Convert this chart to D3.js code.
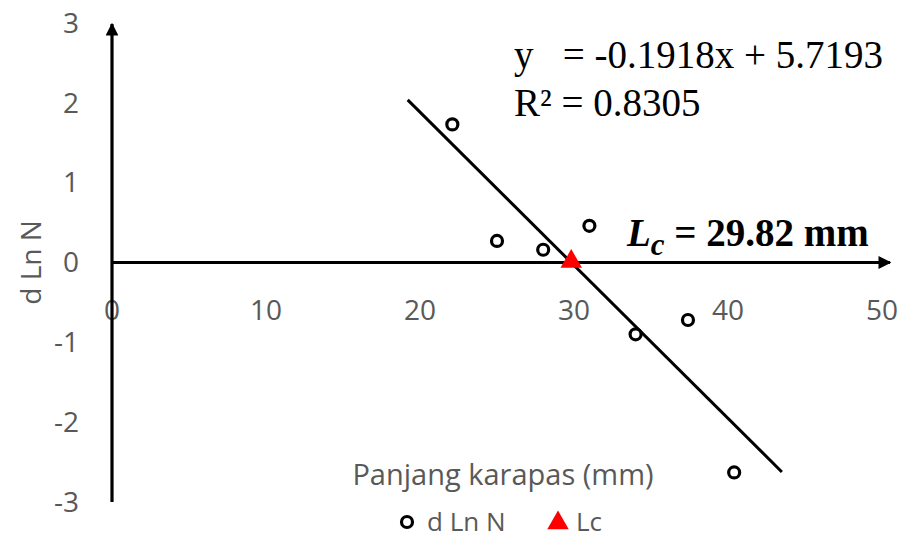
<!DOCTYPE html>
<html>
<head>
<meta charset="utf-8">
<script src="https://cdn.jsdelivr.net/npm/d3@7"></script>
<style>
  body { margin: 0; background: #fff; }
  .sans { font-family: "Open Sans", sans-serif; }
  .serif { font-family: "Liberation Serif", "Times New Roman", serif; }
</style>
</head>
<body>
<div id="chart"></div>
<script>
var
  xTicks = [0, 10, 20, 30, 40, 50],
  yTicks = [-3, -2, -1, 0, 1, 2, 3],
  lengths = [22.1, 25, 28, 31, 34, 37.4, 40.4],
  dLnN = [1.73, 0.27, 0.16, 0.46, -0.9, -0.72, -2.63],
  slope = -0.1918,
  intercept = 5.7193,
  trendRange = [19.2, 43.5],
  lc = 29.82;

var
  width = 912, height = 538,
  svg = d3.select('#chart').append('svg')
    .attr('width', width)
    .attr('height', height),
  x = d3.scaleLinear().domain([0, 50]).range([112, 882]),
  y = d3.scaleLinear().domain([-3, 3]).range([502, 23]);

var grey = '#595959';

// tick labels (excel style, no tick marks)
svg.append('g').selectAll('text')
  .data(yTicks)
  .enter().append('text')
    .attr('class', 'sans')
    .attr('x', 79)
    .attr('y', function(d) { return y(d); })
    .attr('dy', '0.35em')
    .attr('text-anchor', 'end')
    .attr('font-size', 28)
    .attr('fill', grey)
    .text(function(d) { return d; });

svg.append('g').selectAll('text')
  .data(xTicks)
  .enter().append('text')
    .attr('class', 'sans')
    .attr('x', function(d) { return x(d); })
    .attr('y', y(0) + 48)
    .attr('dy', '0.35em')
    .attr('text-anchor', 'middle')
    .attr('font-size', 28)
    .attr('fill', grey)
    .text(function(d) { return d; });

// arrow axes
var defs = svg.append('defs');
defs.append('marker')
  .attr('id', 'arrow')
  .attr('viewBox', '0 0 10 10')
  .attr('refX', 9).attr('refY', 5)
  .attr('markerWidth', 4).attr('markerHeight', 4)
  .attr('markerUnits', 'strokeWidth')
  .attr('orient', 'auto')
  .append('path')
    .attr('d', 'M0,0L10,5L0,10z')
    .attr('fill', '#000');

svg.append('line')
  .attr('x1', x(0)).attr('y1', y(-3))
  .attr('x2', x(0)).attr('y2', 24)
  .attr('stroke', '#000').attr('stroke-width', 3.2)
  .attr('marker-end', 'url(#arrow)');

svg.append('line')
  .attr('x1', x(0)).attr('y1', y(0))
  .attr('x2', 890).attr('y2', y(0))
  .attr('stroke', '#000').attr('stroke-width', 3.2)
  .attr('marker-end', 'url(#arrow)');

// trendline
svg.append('line')
  .attr('x1', x(trendRange[0])).attr('y1', y(slope * trendRange[0] + intercept))
  .attr('x2', x(trendRange[1])).attr('y2', y(slope * trendRange[1] + intercept))
  .attr('stroke', '#000').attr('stroke-width', 3);

// points
svg.append('g').selectAll('circle')
  .data(d3.zip(lengths, dLnN))
  .enter().append('circle')
    .attr('cx', function(d) { return x(d[0]); })
    .attr('cy', function(d) { return y(d[1]); })
    .attr('r', 5.5)
    .attr('fill', '#fff')
    .attr('stroke', '#000')
    .attr('stroke-width', 3.2);

var tri = d3.symbol().type(d3.symbolTriangle).size(200);
svg.append('path')
  .attr('d', tri())
  .attr('transform', 'translate(' + x(lc) + ',' + (y(0) - 1) + ')')
  .attr('fill', '#ff0000');

// equation
svg.append('text')
  .attr('class', 'serif')
  .attr('x', 514).attr('y', 68)
  .attr('font-size', 39)
  .attr('xml:space', 'preserve')
  .text('y   = -0.1918x + 5.7193');
svg.append('text')
  .attr('class', 'serif')
  .attr('x', 514).attr('y', 116)
  .attr('font-size', 39)
  .text('R² = 0.8305');

var lcText = svg.append('text')
  .attr('class', 'serif')
  .attr('x', 627).attr('y', 246)
  .attr('font-size', 39)
  .attr('font-weight', 'bold');
lcText.append('tspan').attr('font-style', 'italic').text('L');
lcText.append('tspan').attr('font-style', 'italic').attr('font-size', 31).attr('dy', 9).text('c');
lcText.append('tspan').attr('dy', -9).text(' = 29.82 mm');

// axis titles
svg.append('text')
  .attr('class', 'sans')
  .attr('transform', 'translate(41,' + y(0) + ') rotate(-90)')
  .attr('text-anchor', 'middle')
  .attr('font-size', 28)
  .attr('fill', grey)
  .text('d Ln N');

svg.append('text')
  .attr('class', 'sans')
  .attr('x', 503).attr('y', 485)
  .attr('text-anchor', 'middle')
  .attr('font-size', 29)
  .attr('fill', grey)
  .text('Panjang karapas (mm)');

// legend
var leg = svg.append('g');
leg.append('circle')
  .attr('cx', 407).attr('cy', 522).attr('r', 5.5)
  .attr('fill', '#fff').attr('stroke', '#000').attr('stroke-width', 3.2);
leg.append('text')
  .attr('class', 'sans')
  .attr('x', 427).attr('y', 531)
  .attr('font-size', 26).attr('fill', grey)
  .text('d Ln N');
leg.append('path')
  .attr('d', tri())
  .attr('transform', 'translate(558,523)')
  .attr('fill', '#ff0000');
leg.append('text')
  .attr('class', 'sans')
  .attr('x', 576).attr('y', 531)
  .attr('font-size', 26).attr('fill', grey)
  .text('Lc');
</script>
</body>
</html>
